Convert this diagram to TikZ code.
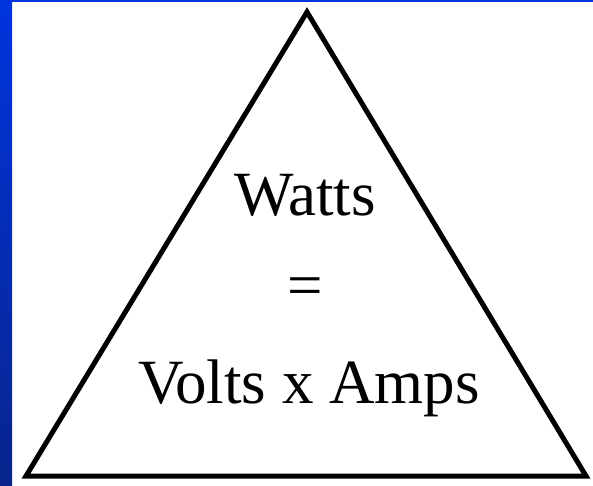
\documentclass[tikz,border=0pt]{standalone}
\usepackage{fontspec}
\setmainfont{Liberation Serif}
\definecolor{bgtop}{RGB}{0,52,222}
\definecolor{bgbot}{RGB}{8,36,140}
\begin{document}
\begin{tikzpicture}[x=1pt,y=-1pt,
  tri/.style={draw=black,line width=5pt,line join=miter},
  lbl/.style={font=\fontsize{63}{70}\selectfont,inner sep=0pt,anchor=base}]
\useasboundingbox (0,0) rectangle (593,486);
\fill[white] (0,0) rectangle (593,486);
\shade[top color=bgtop,bottom color=bgbot] (0,0) rectangle (12,486);
\fill[bgtop] (0,0) rectangle (593,2.5);
\coordinate (apex) at (307,12);
\coordinate (bl) at (26,476);
\coordinate (br) at (586,476);
\draw[tri] (apex) -- (bl) -- (br) -- cycle;
\node[lbl] (watts) at (305,215) {Watts};
\node[lbl] (eq) at (305.5,306) {=};
\node[lbl] (va) at (309,403) {Volts x Amps};
\end{tikzpicture}
\end{document}
